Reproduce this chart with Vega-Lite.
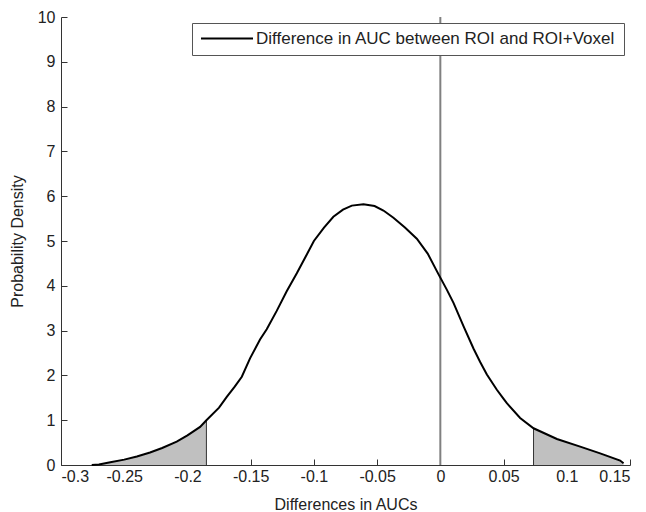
{
  "$schema": "https://vega.github.io/schema/vega-lite/v6.json",
  "autosize": "none",
  "width": 569,
  "height": 448,
  "padding": {"left": 61, "top": 17, "right": 16, "bottom": 47},
  "background": "white",
  "config": {
    "view": {"stroke": null},
    "font": "Liberation Sans",
    "axis": {
      "grid": false,
      "domainColor": "#333333",
      "tickColor": "#333333",
      "tickSize": -6,
      "labelColor": "#222222",
      "titleColor": "#222222",
      "labelFontSize": 16,
      "titleFontSize": 16,
      "titleFontWeight": "normal",
      "labelFont": "Liberation Sans",
      "titleFont": "Liberation Sans"
    },
    "legend": {
      "orient": "none",
      "legendX": 131,
      "legendY": 6,
      "padding": 8,
      "strokeColor": "#555555",
      "fillColor": "white",
      "symbolType": "stroke",
      "symbolSize": 2704,
      "symbolStrokeWidth": 2,
      "clipHeight": 15,
      "labelFontSize": 17,
      "labelFont": "Liberation Sans",
      "labelColor": "#222222",
      "labelOffset": 2,
      "labelLimit": 600
    }
  },
  "datasets": {
    "curve": [
      {"x": -0.2757, "d": 0.0, "shade": "L"},
      {"x": -0.27, "d": 0.01, "shade": "L"},
      {"x": -0.261, "d": 0.06, "shade": "L"},
      {"x": -0.25, "d": 0.12, "shade": "L"},
      {"x": -0.24, "d": 0.19, "shade": "L"},
      {"x": -0.2296, "d": 0.28, "shade": "L"},
      {"x": -0.22, "d": 0.38, "shade": "L"},
      {"x": -0.2085, "d": 0.52, "shade": "L"},
      {"x": -0.2, "d": 0.66, "shade": "L"},
      {"x": -0.19, "d": 0.85, "shade": "L"},
      {"x": -0.185, "d": 1.0, "shade": "L"},
      {"x": -0.175, "d": 1.28, "shade": "none"},
      {"x": -0.1689, "d": 1.52, "shade": "none"},
      {"x": -0.1626, "d": 1.75, "shade": "none"},
      {"x": -0.157, "d": 1.97, "shade": "none"},
      {"x": -0.1505, "d": 2.38, "shade": "none"},
      {"x": -0.1426, "d": 2.8, "shade": "none"},
      {"x": -0.1373, "d": 3.03, "shade": "none"},
      {"x": -0.1294, "d": 3.44, "shade": "none"},
      {"x": -0.1215, "d": 3.88, "shade": "none"},
      {"x": -0.1135, "d": 4.28, "shade": "none"},
      {"x": -0.1056, "d": 4.7, "shade": "none"},
      {"x": -0.1, "d": 5.0, "shade": "none"},
      {"x": -0.092, "d": 5.3, "shade": "none"},
      {"x": -0.0846, "d": 5.54, "shade": "none"},
      {"x": -0.077, "d": 5.7, "shade": "none"},
      {"x": -0.07, "d": 5.79, "shade": "none"},
      {"x": -0.0608, "d": 5.82, "shade": "none"},
      {"x": -0.052, "d": 5.78, "shade": "none"},
      {"x": -0.045, "d": 5.68, "shade": "none"},
      {"x": -0.0371, "d": 5.52, "shade": "none"},
      {"x": -0.028, "d": 5.3, "shade": "none"},
      {"x": -0.0186, "d": 5.05, "shade": "none"},
      {"x": -0.01, "d": 4.72, "shade": "none"},
      {"x": -0.0015, "d": 4.26, "shade": "none"},
      {"x": 0.005, "d": 3.92, "shade": "none"},
      {"x": 0.0104, "d": 3.62, "shade": "none"},
      {"x": 0.0183, "d": 3.1, "shade": "none"},
      {"x": 0.0262, "d": 2.6, "shade": "none"},
      {"x": 0.0315, "d": 2.3, "shade": "none"},
      {"x": 0.0368, "d": 2.02, "shade": "none"},
      {"x": 0.0447, "d": 1.68, "shade": "none"},
      {"x": 0.0499, "d": 1.48, "shade": "none"},
      {"x": 0.0526, "d": 1.38, "shade": "none"},
      {"x": 0.0631, "d": 1.05, "shade": "none"},
      {"x": 0.0737, "d": 0.82, "shade": "R"},
      {"x": 0.0922, "d": 0.58, "shade": "R"},
      {"x": 0.1106, "d": 0.41, "shade": "R"},
      {"x": 0.1264, "d": 0.26, "shade": "R"},
      {"x": 0.1422, "d": 0.1, "shade": "R"},
      {"x": 0.1449, "d": 0.04, "shade": "R"}
    ],
    "bounds": [
      {"x": -0.185, "d": 1.0, "base": 0},
      {"x": 0.0737, "d": 0.82, "base": 0}
    ],
    "zeroline": [
      {"x": 0, "lo": 0, "hi": 10}
    ]
  },
  "layer": [
    {
      "data": {"name": "curve"},
      "transform": [{"filter": "datum.shade == 'L'"}],
      "mark": {"type": "area", "color": "#c0c0c0", "opacity": 1},
      "encoding": {
        "x": {"field": "x", "type": "quantitative",
          "scale": {"domain": [-0.3, 0.15], "nice": false, "zero": false},
          "axis": {
            "title": "Differences in AUCs",
            "values": [-0.3, -0.25, -0.2, -0.15, -0.1, -0.05, 0, 0.05, 0.1, 0.15],
            "labelExpr": "'' + datum.value",
            "labelPadding": 9,
            "titlePadding": 12
          }
        },
        "y": {"field": "d", "type": "quantitative", "stack": null,
          "scale": {"domain": [0, 10], "nice": false},
          "axis": {
            "title": "Probability Density",
            "values": [0, 1, 2, 3, 4, 5, 6, 7, 8, 9, 10],
            "labelPadding": 12,
            "titlePadding": 12
          }
        }
      }
    },
    {
      "data": {"name": "curve"},
      "transform": [{"filter": "datum.shade == 'R'"}],
      "mark": {"type": "area", "color": "#c0c0c0", "opacity": 1},
      "encoding": {
        "x": {"field": "x", "type": "quantitative"},
        "y": {"field": "d", "type": "quantitative", "stack": null}
      }
    },
    {
      "data": {"name": "bounds"},
      "mark": {"type": "rule", "color": "#333333", "strokeWidth": 1},
      "encoding": {
        "x": {"field": "x", "type": "quantitative"},
        "y": {"field": "d", "type": "quantitative"},
        "y2": {"field": "base"}
      }
    },
    {
      "data": {"name": "zeroline"},
      "mark": {"type": "rule", "color": "#808080", "strokeWidth": 2},
      "encoding": {
        "x": {"field": "x", "type": "quantitative"},
        "y": {"field": "lo", "type": "quantitative"},
        "y2": {"field": "hi"}
      }
    },
    {
      "data": {"name": "curve"},
      "transform": [{"calculate": "'Difference in AUC between ROI and ROI+Voxel'", "as": "series"}],
      "mark": {"type": "line", "strokeWidth": 2},
      "encoding": {
        "x": {"field": "x", "type": "quantitative"},
        "y": {"field": "d", "type": "quantitative"},
        "color": {"field": "series", "type": "nominal",
          "scale": {"range": ["#000000"]},
          "legend": {"title": null}
        }
      }
    }
  ]
}
